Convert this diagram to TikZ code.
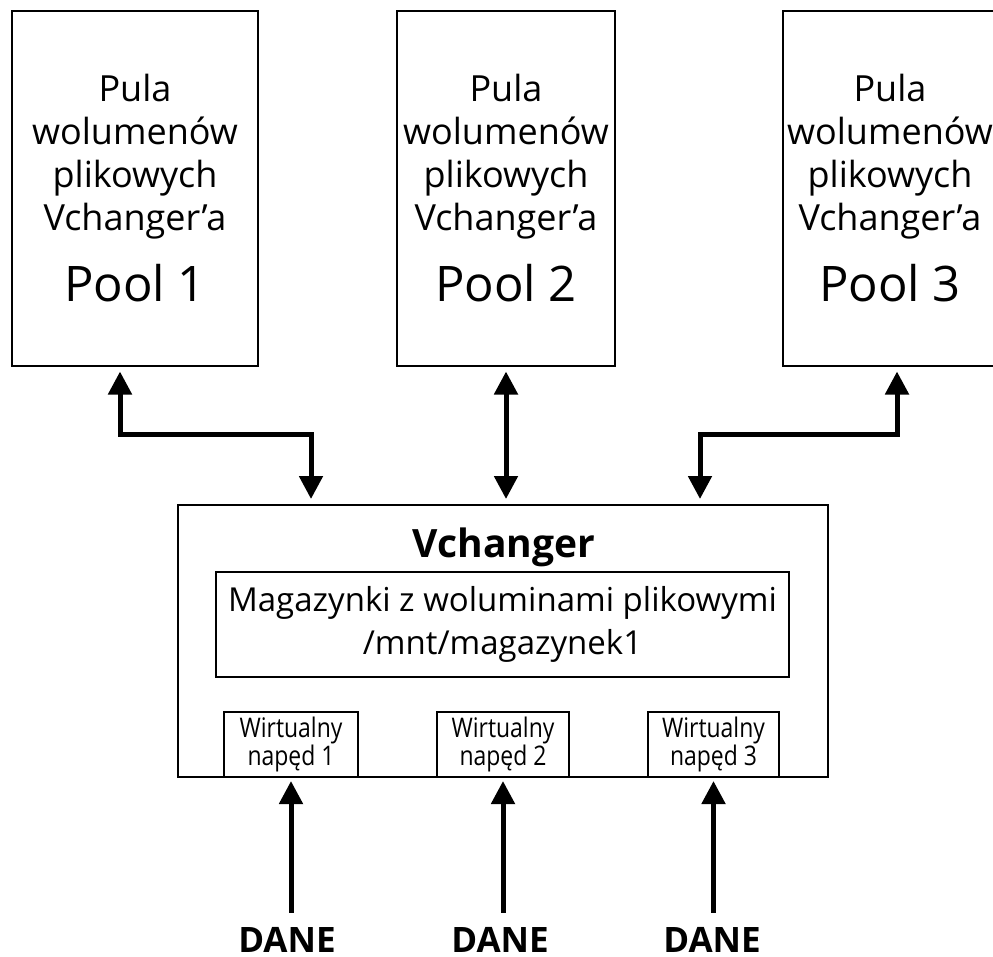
\documentclass[tikz,border=0pt]{standalone}
\usepackage{fontspec}
\setmainfont{Open Sans}
\usetikzlibrary{arrows.meta}

\begin{document}
\begin{tikzpicture}[x=1pt,y=-1pt]
	\tikzstyle{every node}+=[inner sep=0pt]
	\tikzstyle{box}=[draw, line width=2pt]
	\tikzstyle{pool}=[box, minimum height=355pt, align=center, font=\fontsize{36}{43}\selectfont]
	\tikzstyle{drive}=[box, minimum width=132pt, minimum height=65pt, align=center, font=\fontsize{27}{26}\selectfont]
	\tikzstyle{dane}=[font=\bfseries\fontsize{35}{35}\selectfont, anchor=base]
	\tikzstyle{link}=[line width=5pt, -{Triangle[length=23pt,width=23pt]}, shorten >=3pt]
	\tikzstyle{both}=[link, {Triangle[length=23pt,width=23pt]}-{Triangle[length=23pt,width=23pt]}, shorten >=5pt, shorten <=5pt]
	\useasboundingbox (0,0) rectangle (993,956);
	\clip (0,0) rectangle (993,956);
	% pule
	\node [pool, minimum width=246pt] (pool1) at (135,188) {Pula\\wolumenów\\plikowych\\Vchanger’a\\[25pt]{\fontsize{49}{49}\selectfont Pool 1}};
	\node [pool, minimum width=218pt] (pool2) at (506,188) {Pula\\wolumenów\\plikowych\\Vchanger’a\\[25pt]{\fontsize{49}{49}\selectfont Pool 2}};
	\node [pool, minimum width=214pt] (pool3) at (890,188) {Pula\\wolumenów\\plikowych\\Vchanger’a\\[25pt]{\fontsize{49}{49}\selectfont Pool 3}};
	% vchanger
	\node [box, minimum width=650pt, minimum height=272pt] (vch) at (503,641) {};
	\node [font=\bfseries\fontsize{39}{39}\selectfont, anchor=base] (vchtitle) at (504,557) {Vchanger};
	\node [box, minimum width=573pt, minimum height=105pt, align=center, font=\fontsize{33}{43}\selectfont] (mag) at (502.5,624.5) {Magazynki z woluminami plikowymi\\/mnt/magazynek1};
	\node [drive, minimum width=134pt] (drive1) at (291,744.5) {\scalebox{0.85}[1]{Wirtualny}\\\scalebox{0.85}[1]{napęd 1}};
	\node [drive] (drive2) at (503,744.5) {\scalebox{0.85}[1]{Wirtualny}\\\scalebox{0.85}[1]{napęd 2}};
	\node [drive, minimum width=131pt] (drive3) at (713.5,744.5) {\scalebox{0.85}[1]{Wirtualny}\\\scalebox{0.85}[1]{napęd 3}};
	% dane
	\node [dane] (dane1) at (287,952) {DANE};
	\node [dane] (dane2) at (500,952) {DANE};
	\node [dane] (dane3) at (712,952) {DANE};
	% strzalki
	\draw [both] ([xshift=-192pt]vch.north) -- ++(0,-70) -| ([xshift=-15pt]pool1.south);
	\draw [both] (pool2.south) -- (pool2.south |- vch.north);
	\draw [both] ([xshift=197pt]vch.north) -- ++(0,-70) -| ([xshift=7pt]pool3.south);
	\draw [link] ([yshift=14pt]dane1.north -| drive1.south) -- (drive1.south);
	\draw [link] ([yshift=14pt]dane2.north -| drive2.south) -- (drive2.south);
	\draw [link] ([yshift=14pt]dane3.north -| drive3.south) -- (drive3.south);
\end{tikzpicture}
\end{document}
